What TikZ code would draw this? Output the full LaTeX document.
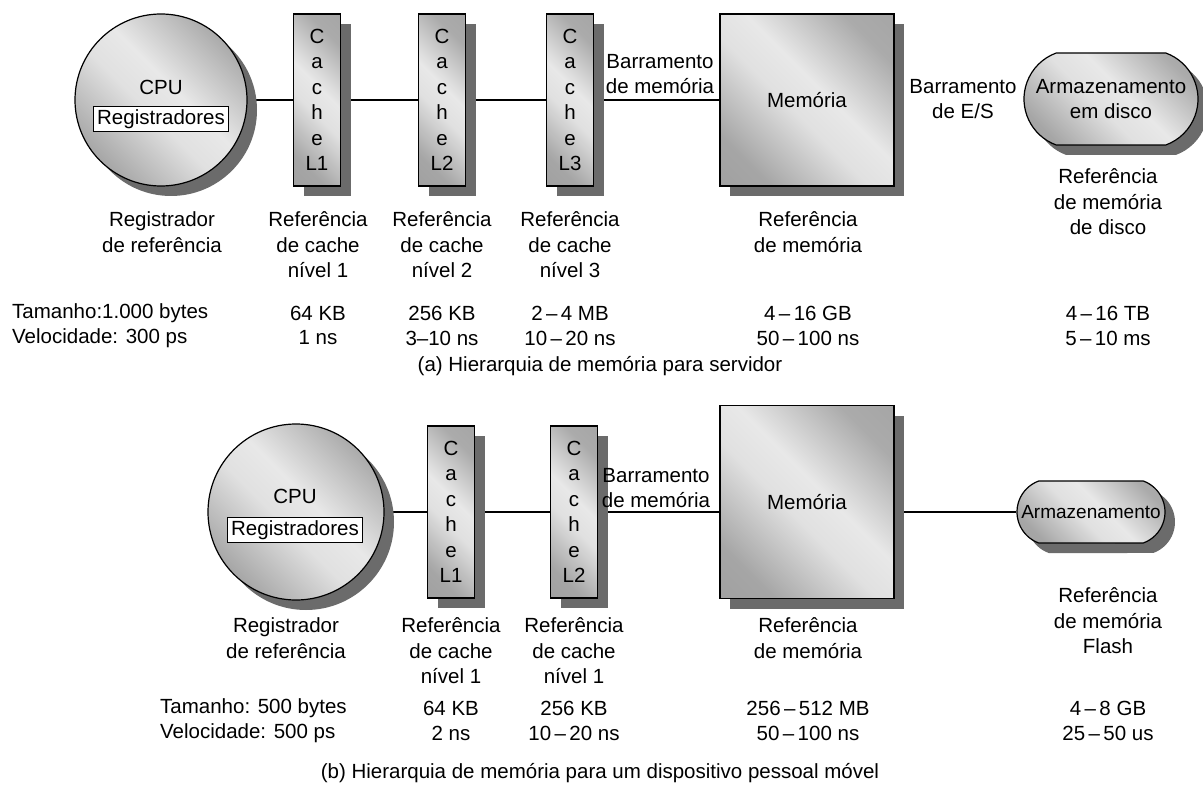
\documentclass[tikz,border=0pt]{standalone}
\usepackage{fontspec}
\setmainfont{Liberation Sans}
\usetikzlibrary{shadows,shapes.misc,backgrounds}
\pgfdeclarehorizontalshading{metal}{100bp}{color(0bp)=(black!40); color(25bp)=(black!35); color(45bp)=(black!12); color(55bp)=(black!9); color(75bp)=(black!33); color(100bp)=(black!38)}

\begin{document}
\begin{tikzpicture}[
x=1pt,y=-1pt,
every node/.style={
font=\fontsize{20.5}{25.5}\selectfont,
align=center,
inner sep=0pt
},
unit/.style={
draw,
line width=1.2pt,
shading=metal,
shading angle=45,
drop shadow={shadow xshift=10pt,shadow yshift=-10pt,fill=black!58,opacity=1}
},
cachebox/.style={unit,minimum width=47pt,minimum height=172pt},
membox/.style={unit,minimum width=174pt,minimum height=172pt},
cpubox/.style={unit,circle,minimum size=172pt},
diskbox/.style={unit,rounded rectangle,rounded rectangle arc length=140},
regbox/.style={draw,fill=white,line width=1pt,inner xsep=4pt,inner ysep=3pt},
bus/.style={line width=2pt}
]
\useasboundingbox (0,0) rectangle (1203,789);

\node[cpubox] (cpuA) at (161,100) {};
\node (cpuAname) at (161,87) {CPU};
\node[regbox] (regA) at (161,119) {Registradores};

\node[cachebox] (l1A) at (317,100) {C\\a\\c\\h\\e\\L1};
\node[cachebox] (l2A) at (442,100) {C\\a\\c\\h\\e\\L2};
\node[cachebox] (l3A) at (570,100) {C\\a\\c\\h\\e\\L3};

\node (busmemA) at (660,74) {Barramento\\de memória};

\node[membox] (memA) at (807,100) {Memória};

\node (busioA) at (963,99) {Barramento\\de E/S};

\node[diskbox,minimum width=174pt,minimum height=92pt] (diskA) at (1111,99)
{Armazenamento\\em disco};

\begin{scope}[on background layer]
\draw[bus] (cpuA) -- (l1A);
\draw[bus] (l1A) -- (l2A);
\draw[bus] (l2A) -- (l3A);
\draw[bus] (l3A) -- (memA);
\end{scope}

\node (refcpuA) at (162,232) {Registrador\\de referência};
\node (refl1A) at (318,245) {Referência\\de cache\\nível 1};
\node (refl2A) at (442,245) {Referência\\de cache\\nível 2};
\node (refl3A) at (570,245) {Referência\\de cache\\nível 3};
\node (refmemA) at (808,232) {Referência\\de memória};
\node (refdiskA) at (1108,202) {Referência\\de memória\\de disco};

\node[anchor=west] (sizeA) at (12,313) {Tamanho:1.000 bytes};
\node[anchor=west] (speedA) at (12,338) {Velocidade: 300 ps};
\node (sizel1A) at (318,313) {64 KB};
\node (speedl1A) at (318,338) {1 ns};
\node (sizel2A) at (442,313) {256 KB};
\node (speedl2A) at (442,338) {3–10 ns};
\node (sizel3A) at (570,313) {2\,–\,4 MB};
\node (speedl3A) at (570,338) {10\,–\,20 ns};
\node (sizememA) at (808,313) {4\,–\,16 GB};
\node (speedmemA) at (808,338) {50\,–\,100 ns};
\node (sizediskA) at (1108,313) {4\,–\,16 TB};
\node (speeddiskA) at (1108,338) {5\,–\,10 ms};

\node (capA) at (600,366) {(a) Hierarquia de memória para servidor};

\node[cpubox,minimum size=176pt] (cpuB) at (296,512) {};
\node (cpuBname) at (295,496) {CPU};
\node[regbox] (regB) at (295,530) {Registradores};

\node[cachebox] (l1B) at (451,512) {C\\a\\c\\h\\e\\L1};
\node[cachebox] (l2B) at (574,512) {C\\a\\c\\h\\e\\L2};

\node (busmemB) at (656,488) {Barramento\\de memória};

\node[membox,minimum height=193pt] (memB) at (807,502) {Memória};

\node[diskbox,minimum width=148pt,minimum height=62pt,font=\fontsize{19}{24}\selectfont] (diskB) at (1091,512)
{Armazenamento};

\begin{scope}[on background layer]
\draw[bus] (cpuB) -- (l1B);
\draw[bus] (l1B) -- (l2B);
\draw[bus] (l2B.east) -- (l2B.east -| memB.west);
\draw[bus] (memB.east |- diskB.west) -- (diskB);
\end{scope}

\node (refcpuB) at (286,638) {Registrador\\de referência};
\node (refl1B) at (451,651) {Referência\\de cache\\nível 1};
\node (refl2B) at (574,651) {Referência\\de cache\\nível 1};
\node (refmemB) at (808,638) {Referência\\de memória};
\node (refdiskB) at (1108,621) {Referência\\de memória\\Flash};

\node[anchor=west] (sizeB) at (160,708) {Tamanho: 500 bytes};
\node[anchor=west] (speedB) at (160,733) {Velocidade: 500 ps};
\node (sizel1B) at (451,708) {64 KB};
\node (speedl1B) at (451,733) {2 ns};
\node (sizel2B) at (574,708) {256 KB};
\node (speedl2B) at (574,733) {10\,–\,20 ns};
\node (sizememB) at (808,708) {256\,–\,512 MB};
\node (speedmemB) at (808,733) {50\,–\,100 ns};
\node (sizediskB) at (1108,708) {4\,–\,8 GB};
\node (speeddiskB) at (1108,733) {25\,–\,50 us};

\node (capB) at (600,773) {(b) Hierarquia de memória para um dispositivo pessoal móvel};

\end{tikzpicture}
\end{document}
